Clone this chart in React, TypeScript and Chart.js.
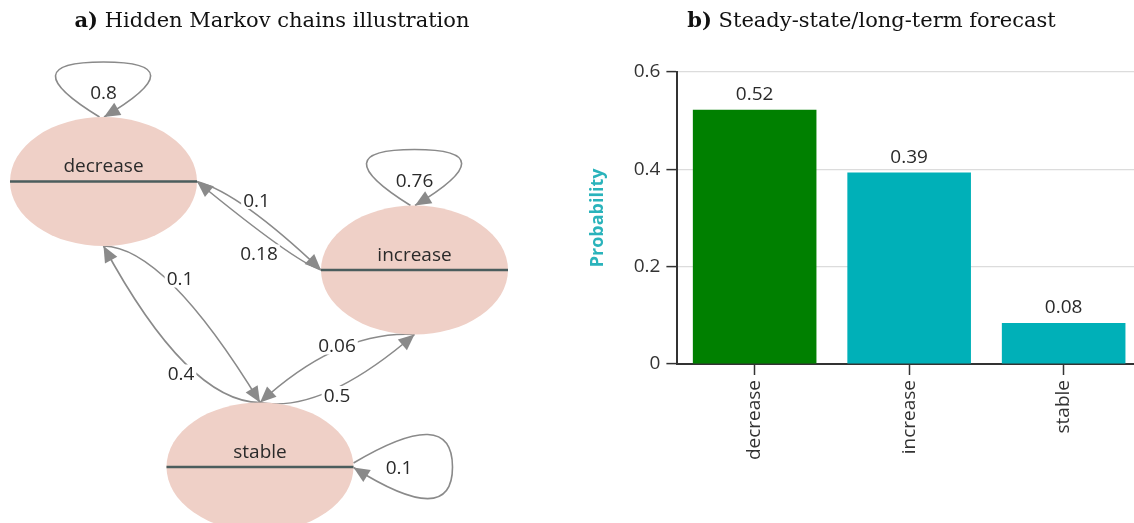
import React, { useEffect, useRef } from "react";
import { Chart, registerables } from "chart.js";

Chart.register(...registerables);

// ---------------- data ----------------
const STATES = ["decrease", "increase", "stable"];
// transition edges of the Markov chain (from -> to, probability)
const EDGE_FROM = [0, 0, 0, 1, 1, 1, 2, 2, 2];
const EDGE_TO = [0, 1, 2, 0, 1, 2, 0, 1, 2];
const EDGE_PROB = [0.8, 0.1, 0.1, 0.18, 0.76, 0.06, 0.4, 0.5, 0.1];
// steady-state probabilities
const STEADY_STATE = [0.522, 0.393, 0.084];
const Y_TICKS = [0, 0.2, 0.4, 0.6];

// ---------------- diagram layout (data units of the left chart) ----------------
const NODE_X = [103.5, 414.5, 260];
const NODE_Y = [181.5, 270, 467];
const NODE_RX = 93.5;
const NODE_RY = 64.5;
// anchors: source side / target side for each edge (loops use LOOP_* settings)
const EDGE_SRC_SIDE = ["top", "right", "bottom", "left", "top", "bottom", "top", "top", "right"];
const EDGE_DST_SIDE = ["top", "left", "top", "right", "top", "top", "bottom", "bottom", "right"];
const EDGE_CTRL_X = [0, 240, 165, 294.8, 0, 339, 188, 322, 0];
const EDGE_CTRL_Y = [0, 193, 247, 261.8, 0, 330, 402, 414, 0];
const EDGE_LABEL_X = [0, 256.5, 180, 259, 0, 337, 181, 337, 0];
const EDGE_LABEL_Y = [0, 200, 278.5, 253.5, 0, 345.5, 373.5, 395, 0];
const LOOP_LEN = [55, 0, 0, 0, 56, 0, 0, 0, 99];
const LOOP_SPREAD = [94, 0, 0, 0, 94, 0, 0, 0, 63];

// ---------------- styles ----------------
const FONT = "'Open Sans', 'Noto Sans', sans-serif";
const NODE_FILL = "#efd0c7";
const NODE_LINE = "#4b5d5d";
const EDGE_COLOR = "#8a8a8a";
const TEXT_COLOR = "#2a2a2a";
const BAR_COLORS = ["#008000", "#00b0b8", "#00b0b8"];

function anchor(n: number, side: string): [number, number] {
  const x = NODE_X[n];
  const y = NODE_Y[n];
  if (side === "right") return [x + NODE_RX, y];
  if (side === "left") return [x - NODE_RX, y];
  if (side === "top") return [x, y - NODE_RY];
  return [x, y + NODE_RY];
}

function sideDir(side: string): [number, number] {
  if (side === "right") return [1, 0];
  if (side === "left") return [-1, 0];
  if (side === "top") return [0, -1];
  return [0, 1];
}

const diagramPlugin = {
  id: "markovDiagram",
  afterDatasetsDraw(chart: any) {
    const ctx = chart.ctx;
    const xs = chart.scales.x;
    const ys = chart.scales.y;
    const P = (x: number, y: number): [number, number] => [xs.getPixelForValue(x), ys.getPixelForValue(y)];
    const arrows: number[][] = [];
    const labels: any[] = [];

    ctx.save();
    ctx.strokeStyle = EDGE_COLOR;
    ctx.lineWidth = 1.6;
    for (let i = 0; i < EDGE_FROM.length; i++) {
      const f = EDGE_FROM[i];
      const t = EDGE_TO[i];
      if (f === t) {
        const side = EDGE_SRC_SIDE[i];
        const [ax, ay] = anchor(f, side);
        const [dx, dy] = sideDir(side);
        const nx = dy, ny = -dx;
        const L = LOOP_LEN[i];
        const W = LOOP_SPREAD[i];
        const p0 = P(ax + nx * 4, ay + ny * 4);
        const c1 = P(ax + dx * L + nx * W, ay + dy * L + ny * W);
        const m = P(ax + dx * L, ay + dy * L);
        const c2 = P(ax + dx * L - nx * W, ay + dy * L - ny * W);
        const p3 = P(ax - nx * 0.5, ay - ny * 0.5);
        ctx.beginPath();
        ctx.moveTo(p0[0], p0[1]);
        ctx.quadraticCurveTo(c1[0], c1[1], m[0], m[1]);
        ctx.quadraticCurveTo(c2[0], c2[1], p3[0], p3[1]);
        ctx.stroke();
        arrows.push([p3[0], p3[1], p3[0] - c2[0], p3[1] - c2[1]]);
        labels.push([P(ax + dx * L * 0.46, ay + dy * L * 0.46), EDGE_PROB[i], false]);
      } else {
        const s = anchor(f, EDGE_SRC_SIDE[i]);
        const e = anchor(t, EDGE_DST_SIDE[i]);
        const p0 = P(s[0], s[1]);
        const p2 = P(e[0], e[1]);
        const c = P(EDGE_CTRL_X[i], EDGE_CTRL_Y[i]);
        ctx.beginPath();
        ctx.moveTo(p0[0], p0[1]);
        ctx.quadraticCurveTo(c[0], c[1], p2[0], p2[1]);
        ctx.stroke();
        arrows.push([p2[0], p2[1], p2[0] - c[0], p2[1] - c[1]]);
        labels.push([P(EDGE_LABEL_X[i], EDGE_LABEL_Y[i]), EDGE_PROB[i], true]);
      }
    }

    // nodes
    const rxPx = Math.abs(xs.getPixelForValue(NODE_RX) - xs.getPixelForValue(0));
    const ryPx = Math.abs(ys.getPixelForValue(NODE_RY) - ys.getPixelForValue(0));
    for (let n = 0; n < STATES.length; n++) {
      const [cx, cy] = P(NODE_X[n], NODE_Y[n]);
      ctx.beginPath();
      ctx.ellipse(cx, cy, rxPx, ryPx, 0, 0, Math.PI * 2);
      ctx.fillStyle = NODE_FILL;
      ctx.fill();
      ctx.beginPath();
      ctx.moveTo(cx - rxPx, cy);
      ctx.lineTo(cx + rxPx, cy);
      ctx.strokeStyle = NODE_LINE;
      ctx.lineWidth = 2.5;
      ctx.stroke();
      ctx.fillStyle = TEXT_COLOR;
      ctx.font = `19px ${FONT}`;
      ctx.textAlign = "center";
      ctx.textBaseline = "alphabetic";
      ctx.fillText(STATES[n], cx, cy - 9.5);
    }

    // arrowheads
    ctx.fillStyle = EDGE_COLOR;
    for (const [x, y, vx, vy] of arrows) {
      const len = Math.hypot(vx, vy) || 1;
      const ux = vx / len, uy = vy / len;
      const L = 16, w = 7;
      const bx = x - ux * L, by = y - uy * L;
      ctx.beginPath();
      ctx.moveTo(x, y);
      ctx.lineTo(bx - uy * w, by + ux * w);
      ctx.lineTo(bx + uy * w, by - ux * w);
      ctx.closePath();
      ctx.fill();
    }

    // edge labels
    ctx.font = `19px ${FONT}`;
    ctx.textAlign = "center";
    ctx.textBaseline = "alphabetic";
    for (const [[lx, ly], prob, box] of labels) {
      const txt = String(prob);
      const w = ctx.measureText(txt).width;
      if (box) {
        ctx.fillStyle = "#ffffff";
        ctx.fillRect(lx - w / 2 - 2, ly - 9, w + 4, 18);
      }
      ctx.fillStyle = TEXT_COLOR;
      ctx.fillText(txt, lx, ly + 6.8);
    }
    ctx.restore();
  },
};

const valueLabelPlugin = {
  id: "valueLabels",
  afterDatasetsDraw(chart: any) {
    const ctx = chart.ctx;
    const meta = chart.getDatasetMeta(0);
    ctx.save();
    ctx.font = `19px ${FONT}`;
    ctx.fillStyle = TEXT_COLOR;
    ctx.textAlign = "center";
    ctx.textBaseline = "alphabetic";
    meta.data.forEach((bar: any, i: number) => {
      ctx.fillText(STEADY_STATE[i].toFixed(2), bar.x, bar.y - 10);
    });
    ctx.restore();
  },
};

const titleStyle = (cx: number): React.CSSProperties => ({
  position: "absolute",
  left: cx,
  top: 8,
  transform: "translateX(-50%)",
  whiteSpace: "nowrap",
  fontFamily: "'DejaVu Serif', serif",
  fontSize: 21,
  lineHeight: "24px",
  color: "#111",
});

export default function App() {
  const leftRef = useRef<HTMLCanvasElement>(null);
  const rightRef = useRef<HTMLCanvasElement>(null);

  useEffect(() => {
    const left = new Chart(leftRef.current as HTMLCanvasElement, {
      type: "scatter",
      data: {
        datasets: [
          {
            data: NODE_X.map((x, i) => ({ x, y: NODE_Y[i] })),
            pointRadius: 0,
            showLine: false,
          },
        ],
      },
      options: {
        animation: false,
        responsive: false,
        events: [],
        layout: { padding: 0, autoPadding: false },
        plugins: { legend: { display: false }, tooltip: { enabled: false } },
        scales: {
          x: { type: "linear", min: 0, max: 560, display: false },
          y: { type: "linear", min: 0, max: 523, reverse: true, display: false },
        },
      } as any,
      plugins: [diagramPlugin],
    });

    const right = new Chart(rightRef.current as HTMLCanvasElement, {
      type: "bar",
      data: {
        labels: STATES,
        datasets: [
          {
            data: STEADY_STATE,
            backgroundColor: BAR_COLORS,
            barPercentage: 0.8,
            categoryPercentage: 1,
          },
        ],
      },
      options: {
        animation: false,
        responsive: false,
        events: [],
        layout: { padding: { left: 0, top: 31.8, right: 9.1, bottom: 0 }, autoPadding: false },
        plugins: { legend: { display: false }, tooltip: { enabled: false } },
        scales: {
          x: {
            grid: {
              drawOnChartArea: false,
              offset: false,
              tickColor: "#333",
              tickLength: 11,
              tickWidth: 1.5,
            },
            border: { color: "#333", width: 2 },
            ticks: {
              minRotation: 90,
              maxRotation: 90,
              padding: 5,
              color: "#333",
              font: { family: FONT, size: 19 },
            },
            afterFit: (s: any) => {
              s.height = 159;
            },
          },
          y: {
            min: 0,
            max: 0.6,
            afterBuildTicks: (s: any) => {
              s.ticks = Y_TICKS.map((v) => ({ value: v }));
            },
            grid: {
              color: (c: any) => (c.tick && c.tick.value === 0 ? "rgba(0,0,0,0)" : "#dcdcdc"),
              lineWidth: 1.2,
              tickColor: "#333",
              tickLength: 11,
              tickWidth: 1.5,
            },
            border: { color: "#333", width: 2 },
            ticks: {
              padding: 6,
              color: "#333",
              font: { family: FONT, size: 19 },
              callback: (v: any) => String(v),
            },
            title: {
              display: true,
              text: "Probability",
              color: "#2ab3bb",
              font: { family: FONT, size: 18, weight: "bold" },
              padding: { top: 27, bottom: 0 },
            },
            afterFit: (s: any) => {
              s.width = 117.4;
            },
          },
        },
      } as any,
      plugins: [valueLabelPlugin],
    });

    return () => {
      left.destroy();
      right.destroy();
    };
  }, []);

  return (
    <div
      style={{
        position: "fixed",
        left: 0,
        top: 0,
        width: 1134,
        height: 523,
        overflow: "hidden",
        background: "#fff",
      }}
    >
      <canvas
        ref={leftRef}
        width={560}
        height={523}
        style={{ position: "absolute", left: 0, top: 0, width: 560, height: 523 }}
      />
      <canvas
        ref={rightRef}
        width={590}
        height={483}
        style={{ position: "absolute", left: 560, top: 40, width: 590, height: 483 }}
      />
      <div style={titleStyle(272)}>
        <b>a)</b> Hidden Markov chains illustration
      </div>
      <div style={titleStyle(871.5)}>
        <b>b)</b> Steady-state/long-term forecast
      </div>
    </div>
  );
}
